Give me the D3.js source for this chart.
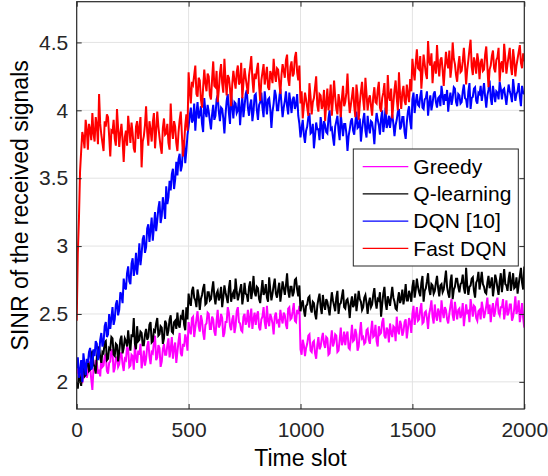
<!DOCTYPE html>
<html>
<head>
<meta charset="utf-8">
<script src="https://cdn.jsdelivr.net/npm/d3@7"></script>
<style>
  body { margin: 0; background: #fff; }
  svg { font-family: "Liberation Sans", Arial, Helvetica, sans-serif; }
</style>
</head>
<body>
<svg id="chart" width="548" height="476"></svg>
<script>
const width = 548;
const height = 476;

// one sample every 5 time slots
const slots = d3.range(0, 2001, 5);

const greedy = [
  2.06, 2.12, 2.01, 2.05, 2.10, 1.99, 2.04, 2.09, 2.13, 2.03, 2.07, 2.15, 2.11, 2.02, 1.94, 2.10, 2.08, 2.16, 2.14, 2.06,
  2.09, 2.04, 2.17, 2.11, 2.12, 2.19, 2.20, 2.08, 2.06, 2.14, 2.15, 2.24, 2.22, 2.07, 2.10, 2.18, 2.18, 2.11, 2.13, 2.21,
  2.21, 2.13, 2.08, 2.17, 2.16, 2.26, 2.24, 2.11, 2.12, 2.20, 2.19, 2.09, 2.27, 2.18, 2.14, 2.23, 2.20, 2.28, 2.10, 2.16,
  2.23, 2.12, 2.17, 2.26, 2.30, 2.19, 2.13, 2.22, 2.21, 2.29, 2.34, 2.16, 2.18, 2.27, 2.25, 2.11, 2.15, 2.24, 2.28, 2.20,
  2.20, 2.27, 2.32, 2.18, 2.24, 2.33, 2.17, 2.25, 2.29, 2.14, 2.22, 2.30, 2.36, 2.21, 2.19, 2.28, 2.26, 2.35, 2.31, 2.23,
  2.44, 2.38, 2.35, 2.47, 2.48, 2.33, 2.40, 2.46, 2.52, 2.41, 2.37, 2.49, 2.45, 2.36, 2.31, 2.42, 2.43, 2.51, 2.50, 2.39,
  2.39, 2.48, 2.46, 2.37, 2.34, 2.45, 2.53, 2.40, 2.42, 2.50, 2.47, 2.33, 2.36, 2.44, 2.44, 2.55, 2.51, 2.41, 2.38, 2.46,
  2.49, 2.36, 2.41, 2.52, 2.55, 2.44, 2.43, 2.38, 2.37, 2.48, 2.50, 2.42, 2.45, 2.53, 2.40, 2.47, 2.54, 2.39, 2.46, 2.51,
  2.42, 2.49, 2.52, 2.40, 2.38, 2.46, 2.48, 2.55, 2.44, 2.39, 2.56, 2.45, 2.41, 2.50, 2.47, 2.43, 2.35, 2.48, 2.51, 2.44,
  2.45, 2.40, 2.53, 2.47, 2.43, 2.51, 2.49, 2.42, 2.39, 2.54, 2.55, 2.46, 2.47, 2.52, 2.58, 2.45, 2.44, 2.53, 2.50, 2.56,
  2.24, 2.20, 2.31, 2.27, 2.19, 2.25, 2.28, 2.34, 2.35, 2.23, 2.22, 2.29, 2.30, 2.21, 2.17, 2.27, 2.33, 2.24, 2.26, 2.32,
  2.36, 2.28, 2.25, 2.33, 2.32, 2.20, 2.21, 2.30, 2.38, 2.26, 2.29, 2.35, 2.34, 2.22, 2.23, 2.31, 2.40, 2.27, 2.30, 2.37,
  2.27, 2.34, 2.37, 2.25, 2.24, 2.32, 2.42, 2.30, 2.31, 2.39, 2.35, 2.23, 2.26, 2.36, 2.44, 2.32, 2.33, 2.28, 2.29, 2.38,
  2.39, 2.31, 2.28, 2.37, 2.45, 2.33, 2.34, 2.42, 2.30, 2.26, 2.41, 2.35, 2.36, 2.44, 2.47, 2.34, 2.32, 2.40, 2.38, 2.29,
  2.43, 2.36, 2.33, 2.41, 2.40, 2.30, 2.48, 2.38, 2.35, 2.45, 2.42, 2.34, 2.37, 2.44, 2.46, 2.32, 2.39, 2.47, 2.44, 2.36,
  2.50, 2.56, 2.42, 2.49, 2.55, 2.45, 2.46, 2.53, 2.58, 2.43, 2.44, 2.51, 2.52, 2.47, 2.39, 2.50, 2.54, 2.60, 2.48, 2.43,
  2.57, 2.49, 2.45, 2.54, 2.51, 2.44, 2.60, 2.52, 2.47, 2.55, 2.53, 2.46, 2.43, 2.50, 2.56, 2.61, 2.49, 2.45, 2.59, 2.52,
  2.46, 2.53, 2.54, 2.47, 2.50, 2.58, 2.41, 2.49, 2.57, 2.51, 2.52, 2.44, 2.61, 2.55, 2.48, 2.56, 2.55, 2.47, 2.45, 2.52,
  2.53, 2.46, 2.59, 2.54, 2.47, 2.51, 2.56, 2.62, 2.50, 2.57, 2.44, 2.53, 2.58, 2.48, 2.52, 2.59, 2.62, 2.51, 2.49, 2.55,
  2.55, 2.61, 2.46, 2.52, 2.60, 2.49, 2.51, 2.57, 2.57, 2.45, 2.48, 2.54, 2.63, 2.50, 2.53, 2.60, 2.44, 2.51, 2.58, 2.47, 2.40
];

const qLearning = [
  2.00, 1.95, 2.07, 2.02, 1.97, 2.10, 2.12, 2.04, 2.05, 2.14, 2.16, 2.08, 2.09, 2.19, 2.23, 2.13, 2.11, 2.06, 2.18, 2.24,
  2.26, 2.18, 2.14, 2.22, 2.21, 2.29, 2.30, 2.16, 2.17, 2.25, 2.24, 2.33, 2.32, 2.20, 2.19, 2.28, 2.27, 2.15, 2.22, 2.31,
  2.34, 2.21, 2.25, 2.32, 2.30, 2.26, 2.38, 2.29, 2.23, 2.35, 2.33, 2.47, 2.28, 2.24, 2.41, 2.30, 2.31, 2.37, 2.36, 2.27,
  2.27, 2.35, 2.39, 2.31, 2.33, 2.42, 2.44, 2.29, 2.30, 2.38, 2.37, 2.43, 2.47, 2.34, 2.35, 2.41, 2.40, 2.28, 2.32, 2.45,
  2.43, 2.34, 2.38, 2.46, 2.49, 2.37, 2.36, 2.44, 2.45, 2.39, 2.51, 2.42, 2.40, 2.48, 2.47, 2.53, 2.42, 2.38, 2.55, 2.46,
  2.65, 2.59, 2.56, 2.67, 2.70, 2.62, 2.60, 2.55, 2.68, 2.63, 2.53, 2.61, 2.64, 2.69, 2.72, 2.57, 2.58, 2.66, 2.66, 2.60,
  2.61, 2.68, 2.74, 2.63, 2.57, 2.65, 2.67, 2.60, 2.63, 2.70, 2.55, 2.62, 2.71, 2.66, 2.62, 2.58, 2.69, 2.75, 2.59, 2.64,
  2.66, 2.61, 2.76, 2.67, 2.60, 2.64, 2.68, 2.72, 2.57, 2.63, 2.73, 2.65, 2.64, 2.59, 2.70, 2.74, 2.61, 2.67, 2.78, 2.66,
  2.63, 2.70, 2.69, 2.61, 2.58, 2.67, 2.75, 2.64, 2.66, 2.72, 2.62, 2.59, 2.77, 2.68, 2.60, 2.65, 2.71, 2.76, 2.65, 2.62,
  2.68, 2.73, 2.59, 2.66, 2.74, 2.69, 2.64, 2.71, 2.80, 2.67, 2.62, 2.70, 2.70, 2.63, 2.66, 2.75, 2.76, 2.68, 2.63, 2.71,
  2.52, 2.57, 2.60, 2.53, 2.48, 2.56, 2.57, 2.62, 2.63, 2.54, 2.51, 2.59, 2.58, 2.50, 2.46, 2.56, 2.61, 2.65, 2.55, 2.50,
  2.64, 2.57, 2.53, 2.61, 2.59, 2.54, 2.49, 2.58, 2.66, 2.60, 2.56, 2.52, 2.62, 2.67, 2.50, 2.57, 2.58, 2.63, 2.68, 2.55,
  2.54, 2.60, 2.61, 2.56, 2.47, 2.58, 2.63, 2.55, 2.57, 2.65, 2.52, 2.59, 2.67, 2.61, 2.59, 2.53, 2.55, 2.62, 2.64, 2.58,
  2.50, 2.58, 2.62, 2.55, 2.57, 2.64, 2.69, 2.59, 2.54, 2.61, 2.60, 2.66, 2.48, 2.57, 2.65, 2.70, 2.58, 2.53, 2.63, 2.60,
  2.56, 2.63, 2.70, 2.62, 2.59, 2.54, 2.53, 2.61, 2.66, 2.58, 2.61, 2.68, 2.57, 2.63, 2.72, 2.60, 2.60, 2.67, 2.64, 2.59,
  2.70, 2.75, 2.62, 2.68, 2.76, 2.70, 2.66, 2.63, 2.73, 2.78, 2.59, 2.67, 2.69, 2.74, 2.80, 2.68, 2.64, 2.72, 2.71, 2.65,
  2.67, 2.73, 2.78, 2.69, 2.63, 2.71, 2.72, 2.66, 2.68, 2.75, 2.82, 2.70, 2.65, 2.62, 2.74, 2.79, 2.61, 2.68, 2.70, 2.76,
  2.76, 2.70, 2.66, 2.72, 2.73, 2.79, 2.69, 2.65, 2.84, 2.71, 2.64, 2.70, 2.71, 2.76, 2.77, 2.67, 2.62, 2.73, 2.75, 2.81,
  2.68, 2.74, 2.81, 2.72, 2.70, 2.66, 2.65, 2.73, 2.78, 2.69, 2.72, 2.77, 2.63, 2.70, 2.79, 2.75, 2.69, 2.64, 2.74, 2.80,
  2.66, 2.74, 2.83, 2.72, 2.71, 2.67, 2.76, 2.81, 2.67, 2.73, 2.80, 2.69, 2.70, 2.77, 2.65, 2.72, 2.78, 2.84, 2.73, 2.68, 2.85
];

const dqn = [
  2.10, 2.18, 2.03, 2.08, 2.16, 2.00, 2.21, 2.13, 2.05, 2.17, 2.14, 2.22, 2.25, 2.09, 2.11, 2.24, 2.19, 2.30, 2.28, 2.16,
  2.20, 2.31, 2.36, 2.26, 2.29, 2.41, 2.44, 2.33, 2.35, 2.50, 2.39, 2.47, 2.55, 2.42, 2.46, 2.57, 2.60, 2.49, 2.53, 2.66,
  2.64, 2.58, 2.76, 2.70, 2.68, 2.80, 2.85, 2.74, 2.72, 2.87, 2.91, 2.78, 2.83, 2.95, 2.79, 2.89, 3.02, 2.86, 2.94, 3.05,
  3.08, 2.95, 2.99, 3.13, 3.16, 3.03, 3.12, 3.21, 3.04, 3.14, 3.25, 3.11, 3.19, 3.28, 3.33, 3.17, 3.22, 3.36, 3.29, 3.20,
  3.44, 3.31, 3.36, 3.48, 3.41, 3.53, 3.57, 3.42, 3.49, 3.62, 3.52, 3.64, 3.68, 3.55, 3.59, 3.73, 3.78, 3.61, 3.70, 3.82,
  3.88, 3.96, 4.02, 3.91, 3.93, 4.05, 3.85, 3.98, 4.06, 3.94, 3.97, 4.03, 3.90, 3.84, 4.09, 3.99, 3.95, 4.04, 3.99, 3.92,
  3.86, 3.97, 4.04, 3.93, 3.96, 4.08, 4.11, 3.99, 3.92, 4.02, 4.01, 3.94, 3.83, 3.97, 4.07, 4.12, 3.98, 3.90, 4.13, 4.03,
  3.94, 4.06, 4.05, 3.98, 4.00, 4.09, 3.89, 4.01, 4.10, 3.95, 4.03, 4.12, 4.15, 4.02, 3.96, 4.04, 4.08, 3.92, 3.99, 4.11,
  4.12, 4.00, 3.93, 4.04, 4.06, 4.13, 4.02, 3.95, 4.14, 4.06, 3.97, 4.08, 4.09, 4.01, 3.87, 3.99, 4.05, 4.15, 4.11, 4.00,
  4.00, 4.09, 4.16, 4.05, 3.95, 4.02, 4.07, 4.14, 4.03, 3.97, 4.13, 4.06, 3.98, 4.08, 4.10, 4.01, 4.04, 4.12, 3.96, 3.90,
  3.80, 3.87, 3.93, 3.82, 3.76, 3.85, 3.88, 3.95, 3.98, 3.83, 3.84, 3.90, 3.72, 3.81, 3.91, 3.86, 3.86, 3.78, 3.95, 3.89,
  3.79, 3.92, 3.89, 3.84, 3.83, 3.94, 4.00, 3.86, 3.87, 3.80, 3.74, 3.88, 3.92, 3.96, 3.85, 3.78, 3.97, 3.89, 3.81, 3.90,
  3.90, 3.83, 3.70, 3.81, 3.86, 3.92, 3.94, 3.85, 3.82, 3.91, 3.99, 3.87, 3.88, 3.94, 3.77, 3.86, 3.93, 3.98, 3.85, 3.80,
  3.96, 3.88, 3.83, 3.92, 3.91, 3.85, 3.75, 3.89, 3.98, 3.93, 3.89, 3.82, 3.94, 4.00, 3.84, 3.91, 4.02, 3.87, 3.90, 3.96,
  3.87, 3.94, 3.97, 3.90, 3.81, 3.89, 3.93, 3.99, 4.01, 3.86, 3.88, 3.95, 3.95, 3.84, 3.79, 3.91, 3.99, 4.03, 3.92, 3.86,
  4.08, 4.13, 3.98, 4.06, 4.12, 4.04, 4.03, 4.10, 4.15, 4.02, 4.01, 4.08, 4.09, 4.14, 3.96, 4.05, 4.11, 4.00, 4.05, 4.12,
  4.14, 4.06, 4.02, 4.09, 4.10, 4.03, 4.18, 4.11, 4.04, 4.12, 4.07, 4.15, 3.99, 4.08, 4.13, 4.04, 4.09, 4.17, 4.16, 4.06,
  4.03, 4.12, 4.11, 4.05, 4.06, 4.14, 4.19, 4.09, 4.08, 4.02, 4.14, 4.20, 4.01, 4.09, 4.10, 4.16, 4.17, 4.07, 4.05, 4.13,
  4.12, 4.18, 4.07, 4.13, 4.20, 4.10, 4.02, 4.11, 4.15, 4.22, 4.09, 4.04, 4.18, 4.12, 4.06, 4.14, 4.13, 4.08, 4.21, 4.16,
  4.08, 4.15, 4.16, 4.10, 4.04, 4.12, 4.19, 4.14, 4.11, 4.06, 4.23, 4.15, 4.07, 4.12, 4.14, 4.20, 4.10, 4.03, 4.18, 4.13, 4.12
];

const fastDqn = [
  2.45, 2.95, 3.20, 3.55, 3.70, 3.84, 3.80, 3.72, 3.93, 3.86, 3.71, 3.90, 3.86, 3.78, 3.98, 3.83, 3.77, 3.95, 3.89, 3.75,
  4.12, 3.90, 3.82, 3.76, 3.70, 3.92, 3.88, 3.97, 3.95, 3.81, 3.66, 3.85, 3.84, 3.93, 3.79, 3.74, 4.01, 3.87, 3.73, 3.83,
  3.90, 3.78, 3.62, 3.80, 3.85, 3.74, 3.96, 3.86, 3.76, 3.91, 3.83, 3.72, 3.69, 3.88, 3.92, 3.79, 3.87, 3.95, 3.58, 3.77,
  3.81, 3.89, 4.03, 3.84, 3.74, 3.92, 3.86, 3.77, 3.91, 3.98, 3.72, 3.85, 3.99, 3.88, 3.80, 3.73, 3.68, 3.87, 3.94, 3.82,
  3.83, 3.90, 3.76, 3.71, 4.05, 3.86, 3.79, 3.92, 3.88, 3.76, 3.70, 3.84, 3.93, 3.99, 3.82, 3.66, 3.75, 3.89, 3.97, 3.85,
  4.28, 4.15, 4.05, 4.21, 4.19, 4.26, 4.33, 4.12, 4.10, 4.24, 4.22, 4.08, 4.02, 4.17, 4.30, 4.20, 4.14, 4.27, 4.25, 4.11,
  4.08, 4.23, 4.36, 4.18, 4.17, 4.29, 4.06, 4.15, 4.27, 4.34, 4.20, 4.13, 4.38, 4.22, 4.11, 4.26, 4.24, 4.16, 4.03, 4.19,
  4.29, 4.22, 4.16, 4.28, 4.33, 4.19, 4.21, 4.35, 4.09, 4.20, 4.31, 4.24, 4.18, 4.12, 4.26, 4.32, 4.40, 4.23, 4.13, 4.27,
  4.23, 4.30, 4.35, 4.18, 4.07, 4.22, 4.28, 4.34, 4.19, 4.25, 4.32, 4.17, 4.15, 4.29, 4.26, 4.20, 4.38, 4.27, 4.21, 4.31,
  4.30, 4.21, 4.12, 4.26, 4.34, 4.29, 4.24, 4.37, 4.41, 4.23, 4.18, 4.32, 4.36, 4.25, 4.27, 4.39, 4.43, 4.28, 4.22, 4.33,
  4.05, 4.14, 3.94, 4.03, 4.13, 4.08, 4.02, 3.96, 4.20, 4.10, 3.97, 4.06, 4.09, 4.17, 4.25, 4.04, 3.99, 4.12, 4.11, 4.01,
  4.04, 4.15, 3.92, 4.05, 4.16, 4.00, 4.07, 4.19, 3.96, 4.08, 4.22, 4.10, 4.01, 3.97, 4.12, 4.06, 3.95, 4.09, 4.18, 4.03,
  4.06, 4.13, 4.27, 4.09, 3.98, 4.04, 4.10, 4.17, 4.03, 3.95, 4.19, 4.11, 3.93, 4.05, 4.14, 4.21, 4.08, 4.00, 4.24, 4.12,
  4.00, 4.08, 4.11, 4.03, 3.96, 4.10, 4.17, 4.06, 4.05, 4.15, 4.21, 4.02, 3.99, 4.09, 4.13, 4.20, 4.02, 3.97, 4.26, 4.10,
  4.07, 4.16, 3.94, 4.05, 4.15, 4.22, 4.09, 4.00, 4.28, 4.11, 4.01, 4.13, 4.18, 4.07, 4.04, 4.19, 4.12, 4.06, 4.23, 4.14,
  4.38, 4.29, 4.22, 4.35, 4.45, 4.31, 4.30, 4.40, 4.16, 4.28, 4.41, 4.34, 4.27, 4.23, 4.51, 4.36, 4.33, 4.42, 4.20, 4.32,
  4.36, 4.27, 4.48, 4.33, 4.25, 4.37, 4.39, 4.30, 4.18, 4.31, 4.43, 4.35, 4.31, 4.44, 4.24, 4.32, 4.50, 4.38, 4.34, 4.26,
  4.21, 4.33, 4.40, 4.28, 4.29, 4.36, 4.46, 4.34, 4.19, 4.30, 4.37, 4.45, 4.52, 4.32, 4.26, 4.39, 4.35, 4.27, 4.42, 4.36,
  4.23, 4.35, 4.38, 4.29, 4.30, 4.41, 4.47, 4.32, 4.17, 4.30, 4.33, 4.40, 4.44, 4.31, 4.28, 4.37, 4.39, 4.46, 4.21, 4.34,
  4.36, 4.28, 4.49, 4.39, 4.27, 4.34, 4.40, 4.46, 4.32, 4.26, 4.45, 4.37, 4.25, 4.33, 4.38, 4.43, 4.48, 4.35, 4.31, 4.42, 4.36
];

const seriesNames = ['Greedy', 'Q-learning', 'DQN [10]', 'Fast DQN'];
const seriesColors = ['#ff00ff', '#000000', '#0000ff', '#ff0000'];
const seriesValues = [greedy, qLearning, dqn, fastDqn];

const xTicks = [0, 500, 1000, 1500, 2000];
const yTicks = [2, 2.5, 3, 3.5, 4, 4.5];

const plot = { left: 76.7, right: 524.3, top: 1.7, bottom: 409 };
const axisColor = '#262626';

const x = d3.scaleLinear().domain([0, 2000]).range([plot.left, plot.right]);
const y = d3.scaleLinear().domain([1.8, 4.8]).range([plot.bottom, plot.top]);

const svg = d3.select('#chart');

svg.append('defs').append('clipPath').attr('id', 'clip')
    .append('rect')
    .attr('x', plot.left).attr('y', plot.top)
    .attr('width', plot.right - plot.left).attr('height', plot.bottom - plot.top);

// grid
const grid = svg.append('g').attr('stroke', '#e3e3e3').attr('stroke-width', 1);
grid.selectAll('.gx').data(xTicks.slice(1, -1)).enter().append('line')
    .attr('x1', d => x(d)).attr('x2', d => x(d))
    .attr('y1', plot.top).attr('y2', plot.bottom);
grid.selectAll('.gy').data(yTicks).enter().append('line')
    .attr('x1', plot.left).attr('x2', plot.right)
    .attr('y1', d => y(d)).attr('y2', d => y(d));

// series
const line = d3.line()
    .x((d, i) => x(slots[i]))
    .y(d => y(d));

svg.append('g').attr('clip-path', 'url(#clip)')
    .selectAll('path')
    .data(seriesValues)
    .enter().append('path')
    .attr('d', d => line(d))
    .attr('fill', 'none')
    .attr('stroke', (d, i) => seriesColors[i])
    .attr('stroke-width', 2)
    .attr('stroke-linejoin', 'miter');

// axes, ticks pointing inward on all four sides
const styleAxis = g => {
    g.select('.domain').remove();
    g.selectAll('line').attr('stroke', axisColor);
    g.selectAll('text').attr('fill', axisColor).style('font-size', '21px');
};

svg.append('g')
    .attr('transform', `translate(0,${plot.bottom})`)
    .call(d3.axisBottom(x).tickValues(xTicks).tickSize(-5).tickPadding(13).tickFormat(d3.format('d')))
    .call(styleAxis);
svg.append('g')
    .attr('transform', `translate(0,${plot.top})`)
    .call(d3.axisTop(x).tickValues(xTicks).tickSize(-5).tickFormat(''))
    .call(styleAxis);
svg.append('g')
    .attr('transform', `translate(${plot.left},0)`)
    .call(d3.axisLeft(y).tickValues(yTicks).tickSize(-5).tickPadding(8.4).tickFormat(d3.format('')))
    .call(styleAxis);
svg.append('g')
    .attr('transform', `translate(${plot.right},0)`)
    .call(d3.axisRight(y).tickValues(yTicks).tickSize(-5).tickFormat(''))
    .call(styleAxis);

svg.append('rect')
    .attr('x', plot.left).attr('y', plot.top)
    .attr('width', plot.right - plot.left).attr('height', plot.bottom - plot.top)
    .attr('fill', 'none').attr('stroke', axisColor).attr('stroke-width', 1.2);

// axis titles
svg.append('text')
    .attr('x', (plot.left + plot.right) / 2).attr('y', 465.7)
    .attr('text-anchor', 'middle').attr('fill', '#000')
    .style('font-size', '23px')
    .text('Time slot');
svg.append('text')
    .attr('transform', `translate(28,${(plot.top + plot.bottom) / 2}) rotate(-90)`)
    .attr('text-anchor', 'middle').attr('fill', '#000')
    .style('font-size', '23px')
    .text('SINR of the received signals');

// legend
const legend = svg.append('g').attr('transform', 'translate(353.3,149)');
legend.append('rect')
    .attr('width', 165).attr('height', 117)
    .attr('fill', '#fff').attr('stroke', axisColor).attr('stroke-width', 1);
const item = legend.selectAll('.item').data(seriesNames).enter().append('g')
    .attr('transform', (d, i) => `translate(0,${17.7 + i * 27.2})`);
item.append('line')
    .attr('x1', 9.4).attr('x2', 55)
    .attr('stroke', (d, i) => seriesColors[i]).attr('stroke-width', 1.3);
item.append('text')
    .attr('x', 60).attr('dy', '0.35em')
    .style('font-size', '21px').attr('fill', '#000')
    .text(d => d);
</script>
</body>
</html>
